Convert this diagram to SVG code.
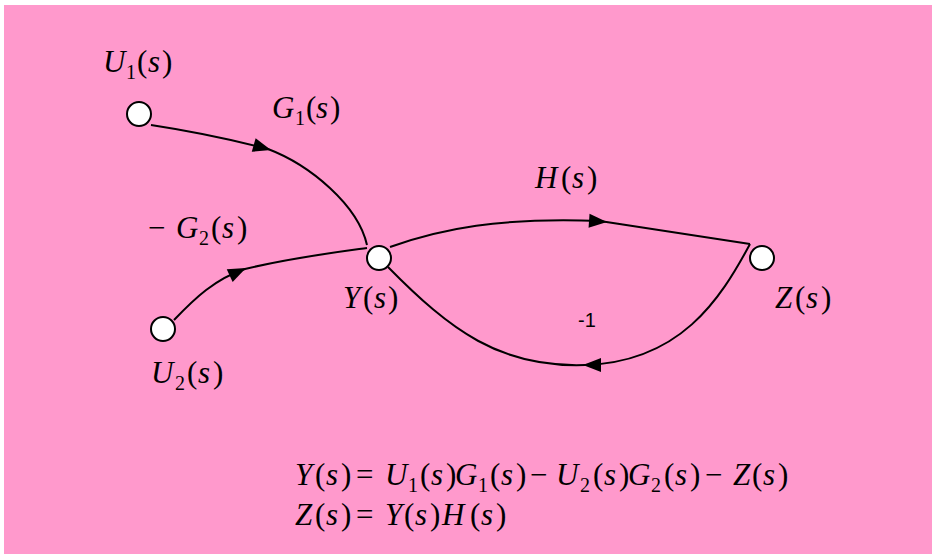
<svg xmlns="http://www.w3.org/2000/svg" xmlns:xlink="http://www.w3.org/1999/xlink" width="932" height="554" viewBox="0 0 932 554">
<style>
.bg{fill:#FF99CC}
.e{fill:none;stroke:#000;stroke-width:2}
.n{fill:#fff;stroke:#000;stroke-width:2}
.ah{fill:#000}
.t{font-family:"Liberation Serif","Times New Roman","DejaVu Serif",serif;font-size:31px;fill:#000}
.i{font-style:italic}
.sb{font-size:20px}
.num{font-family:"Liberation Sans",Arial,sans-serif;font-size:20px;fill:#000}
</style>
<defs>
<path id="ah" d="M0,0 L-18,-7 L-18,7 Z"/>
</defs>
<rect class="bg" x="4" y="5" width="928" height="549"/>
<g id="connectors">
<path id="e-g1" class="e" d="M151,125 Q210,134 268,149 C310,165 358,205 367,245"/>
<use class="ah" xlink:href="#ah" transform="translate(271,150) rotate(16)"/>
<path id="e-g2" class="e" d="M174,320 C195,298 215,279 245,269 C290,258 330,253 367,248"/>
<use class="ah" xlink:href="#ah" transform="translate(246,268) rotate(-25)"/>
<path id="e-h" class="e" d="M390,247 C440,229 500,217 600,221 L750,244"/>
<use class="ah" xlink:href="#ah" transform="translate(607,222) rotate(4)"/>
<path id="e-m1" class="e" d="M750,244 C720,300 680,362 585,365 C500,368 450,330 388,267"/>
<use class="ah" xlink:href="#ah" transform="translate(583,365) rotate(180)"/>
</g>
<g id="node-u1"><circle class="n" cx="139" cy="114" r="12"/></g>
<g id="node-u2"><circle class="n" cx="163" cy="329" r="12"/></g>
<g id="node-y"><circle class="n" cx="379" cy="258" r="12"/></g>
<g id="node-z"><circle class="n" cx="762" cy="258" r="12"/></g>
<g id="labels">
<text class="t"><tspan class="i" x="103" y="72">U</tspan><tspan class="sb" x="126" y="79">1</tspan><tspan x="137" y="72">(</tspan><tspan class="i" x="148" y="72">s</tspan><tspan x="162" y="72">)</tspan></text>
<text class="t"><tspan class="i" x="272" y="118">G</tspan><tspan class="sb" x="295" y="125">1</tspan><tspan x="306" y="118">(</tspan><tspan class="i" x="316" y="118">s</tspan><tspan x="330" y="118">)</tspan></text>
<text class="t"><tspan x="148" y="238">−</tspan><tspan class="i" x="176" y="238">G</tspan><tspan class="sb" x="199" y="245">2</tspan><tspan x="211" y="238">(</tspan><tspan class="i" x="222" y="238">s</tspan><tspan x="237" y="238">)</tspan></text>
<text class="t"><tspan class="i" x="343" y="308">Y</tspan><tspan x="363" y="308">(</tspan><tspan class="i" x="374" y="308">s</tspan><tspan x="388" y="308">)</tspan></text>
<text class="t"><tspan class="i" x="151" y="383">U</tspan><tspan class="sb" x="175" y="390">2</tspan><tspan x="187" y="383">(</tspan><tspan class="i" x="198" y="383">s</tspan><tspan x="213" y="383">)</tspan></text>
<text class="t"><tspan class="i" x="535" y="188">H</tspan><tspan x="561" y="188">(</tspan><tspan class="i" x="572" y="188">s</tspan><tspan x="587" y="188">)</tspan></text>
<text class="t"><tspan class="i" x="775" y="308">Z</tspan><tspan x="795" y="308">(</tspan><tspan class="i" x="806" y="308">s</tspan><tspan x="821" y="308">)</tspan></text>
<text class="num" x="578" y="327">-1</text>
</g>
<g id="equations">
<text class="t"><tspan class="i" x="295" y="485">Y</tspan><tspan x="315" y="485">(</tspan><tspan class="i" x="326" y="485">s</tspan><tspan x="341" y="485">)</tspan><tspan x="356" y="485">=</tspan><tspan class="i" x="385" y="485">U</tspan><tspan class="sb" x="408" y="492">1</tspan><tspan x="420" y="485">(</tspan><tspan class="i" x="431" y="485">s</tspan><tspan x="446" y="485">)</tspan><tspan class="i" x="455" y="485">G</tspan><tspan class="sb" x="478" y="492">1</tspan><tspan x="490" y="485">(</tspan><tspan class="i" x="501" y="485">s</tspan><tspan x="516" y="485">)</tspan><tspan x="530" y="485">−</tspan><tspan class="i" x="556" y="485">U</tspan><tspan class="sb" x="580" y="492">2</tspan><tspan x="593" y="485">(</tspan><tspan class="i" x="604" y="485">s</tspan><tspan x="619" y="485">)</tspan><tspan class="i" x="628" y="485">G</tspan><tspan class="sb" x="651" y="492">2</tspan><tspan x="664" y="485">(</tspan><tspan class="i" x="675" y="485">s</tspan><tspan x="690" y="485">)</tspan><tspan x="705" y="485">−</tspan><tspan class="i" x="733" y="485">Z</tspan><tspan x="752" y="485">(</tspan><tspan class="i" x="763" y="485">s</tspan><tspan x="778" y="485">)</tspan></text>
<text class="t"><tspan class="i" x="295" y="525">Z</tspan><tspan x="315" y="525">(</tspan><tspan class="i" x="326" y="525">s</tspan><tspan x="341" y="525">)</tspan><tspan x="356" y="525">=</tspan><tspan class="i" x="385" y="525">Y</tspan><tspan x="404" y="525">(</tspan><tspan class="i" x="415" y="525">s</tspan><tspan x="430" y="525">)</tspan><tspan class="i" x="442" y="525">H</tspan><tspan x="470" y="525">(</tspan><tspan class="i" x="481" y="525">s</tspan><tspan x="496" y="525">)</tspan></text>
</g>
</svg>
